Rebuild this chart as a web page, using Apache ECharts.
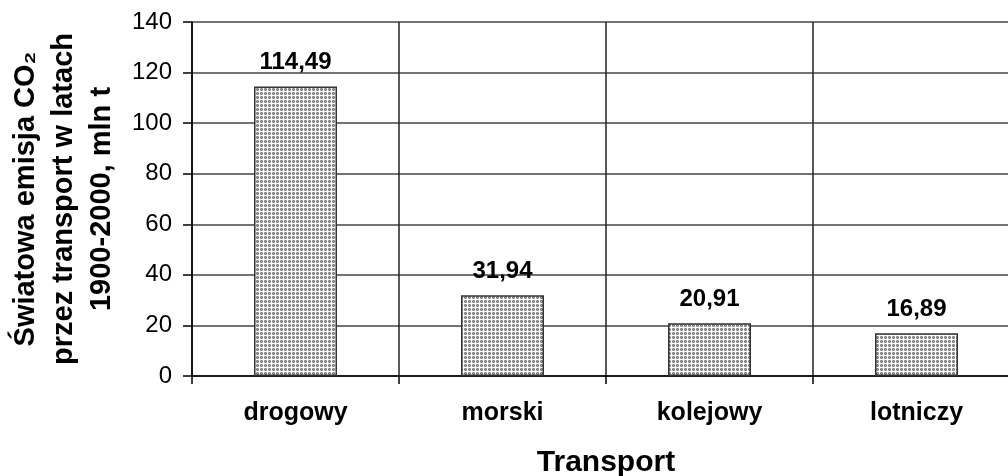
<!DOCTYPE html>
<html>
<head>
<meta charset="utf-8">
<script src="https://cdn.jsdelivr.net/npm/echarts@6/dist/echarts.min.js"></script>
<style>
  html, body { margin: 0; padding: 0; background: #fff; }
  #chart { width: 1008px; height: 476px; }
</style>
</head>
<body>
<div id="chart"></div>
<script>
// dane
var categories = ["drogowy", "morski", "kolejowy", "lotniczy"];
var emisja = [114.49, 31.94, 20.91, 16.89];
var yName = "Światowa emisja CO₂\nprzez transport w latach\n1900-2000, mln t";
var xName = "Transport";

// wzór kropek na słupkach
function makePattern() {
  var c = document.createElement("canvas");
  c.width = 4;
  c.height = 4;
  var ctx = c.getContext("2d");
  ctx.fillStyle = "#ffffff";
  ctx.fillRect(0, 0, 4, 4);
  ctx.fillStyle = "#7a7a7a";
  ctx.fillRect(0, 0, 3, 3);
  ctx.fillStyle = "#b4b4b4";
  ctx.fillRect(0, 0, 1, 1);
  ctx.fillRect(2, 0, 1, 1);
  ctx.fillRect(0, 2, 1, 1);
  ctx.fillRect(2, 2, 1, 1);
  ctx.fillStyle = "#a0a0a0";
  ctx.fillRect(1, 1, 1, 1);
  return c;
}

var font = "'Liberation Sans', Arial, sans-serif";
var myChart = echarts.init(document.getElementById("chart"));
myChart.setOption({
  animation: false,
  backgroundColor: "#fff",
  grid: { left: 192, top: 22, width: 828, height: 354, outerBoundsMode: "none" },
  xAxis: {
    type: "category",
    data: categories,
    name: xName,
    nameLocation: "middle",
    nameGap: 72,
    nameTextStyle: { fontFamily: font, fontSize: 30, fontWeight: "bold", color: "#000" },
    axisLine: { lineStyle: { color: "#000", width: 1.5 } },
    axisTick: { show: true, length: 8, interval: 0, lineStyle: { color: "#000", width: 1.5 } },
    axisLabel: { fontFamily: font, fontSize: 25, fontWeight: "bold", color: "#000", margin: 25, interval: 0 },
    splitLine: { show: true, interval: 0, lineStyle: { color: "#222", width: 1.5 } },
  },
  yAxis: {
    type: "value",
    min: 0,
    max: 140,
    interval: 20,
    name: yName,
    nameLocation: "middle",
    nameRotate: 90,
    nameGap: 71,
    nameTextStyle: { fontFamily: font, fontSize: 29, fontWeight: "bold", color: "#000", lineHeight: 38, align: "center" },
    axisLine: { show: true, lineStyle: { color: "#000", width: 1.5 } },
    axisTick: { show: true, length: 9, lineStyle: { color: "#000", width: 1.5 } },
    axisLabel: { fontFamily: font, fontSize: 24, color: "#000", margin: 20 },
    splitLine: { show: true, lineStyle: { color: "#444", width: 1.5 } },
  },
  series: [
    {
      type: "bar",
      data: emisja,
      barWidth: 83,
      itemStyle: {
        color: { image: makePattern(), repeat: "repeat" },
        borderColor: "#333",
        borderWidth: 1.5,
      },
      label: {
        show: true,
        position: "top",
        distance: 12,
        fontFamily: font,
        fontSize: 24,
        fontWeight: "bold",
        color: "#000",
        formatter: function (p) {
          return p.value.toFixed(2).replace(".", ",");
        },
      },
    },
  ],
});
</script>
</body>
</html>
